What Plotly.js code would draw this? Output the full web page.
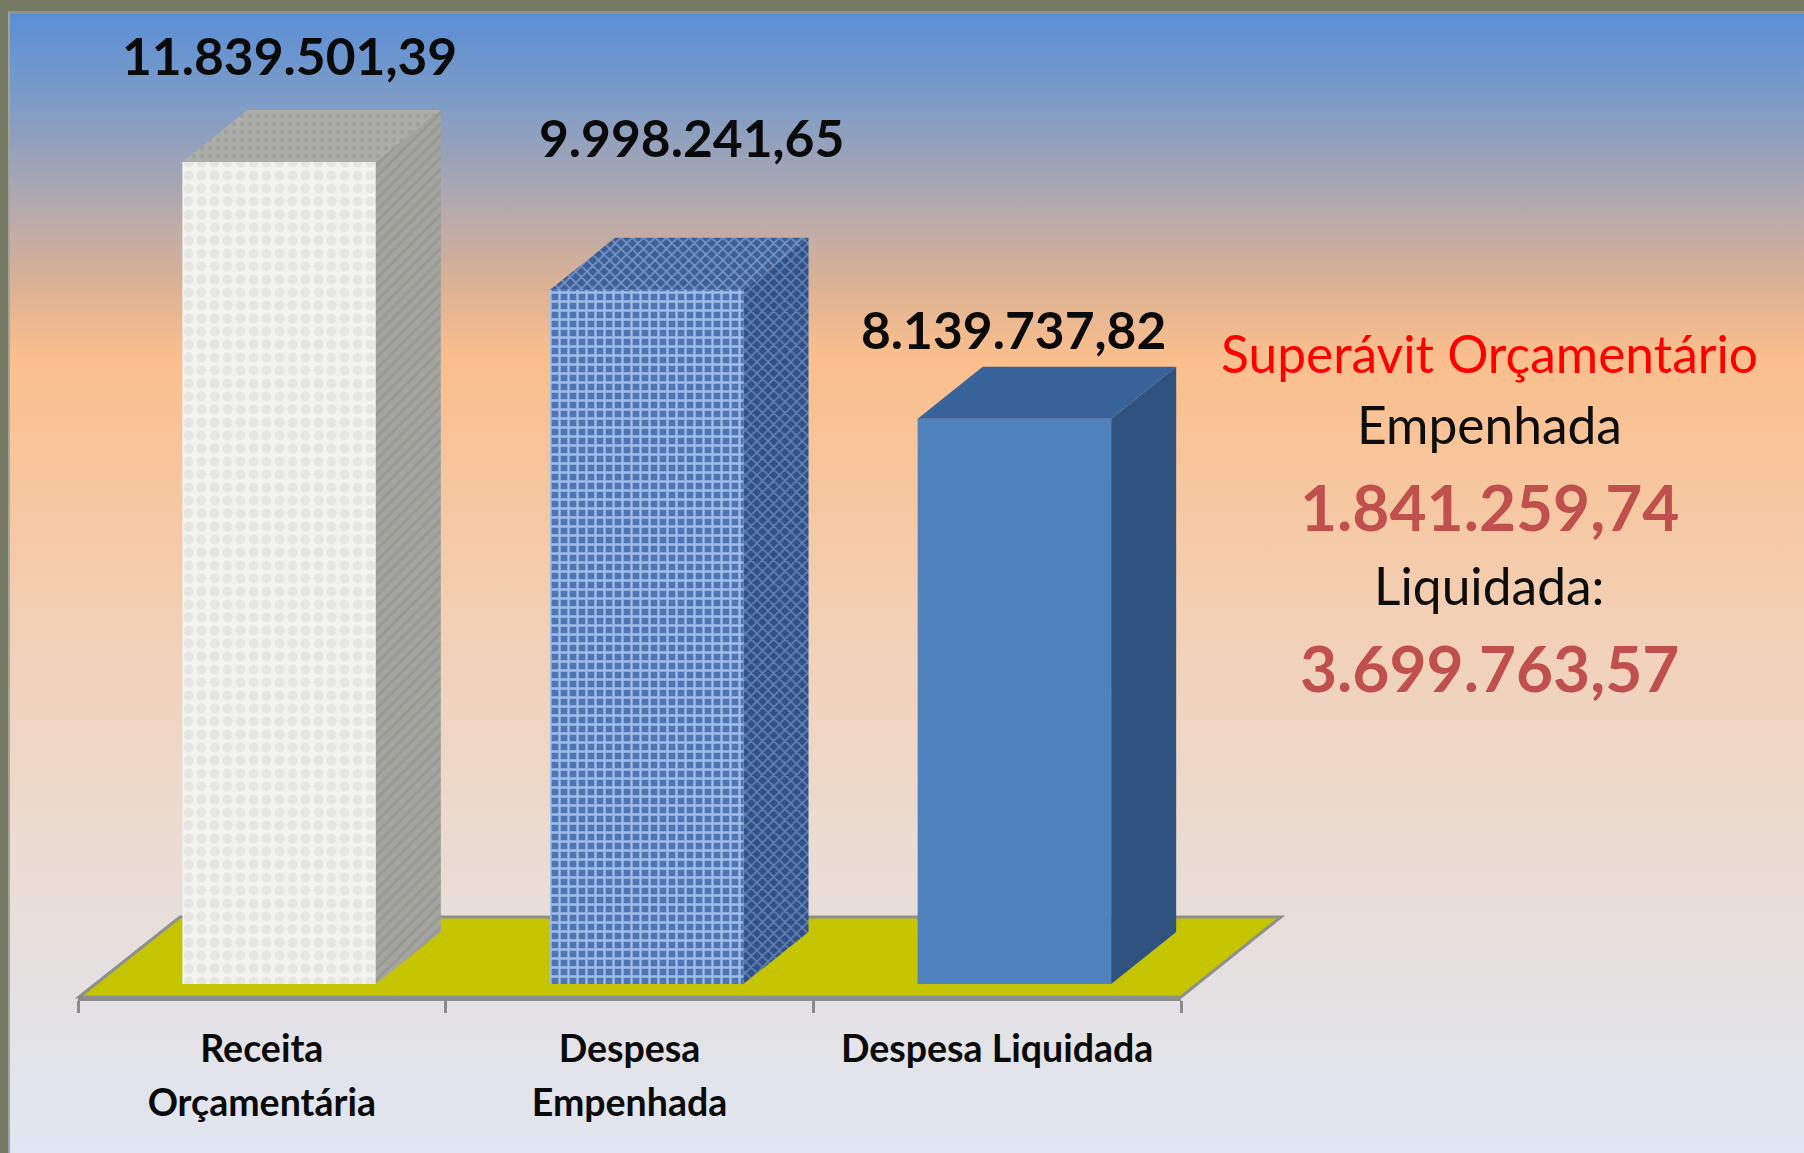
<!DOCTYPE html>
<html><head><meta charset="utf-8">
<script src="https://cdn.plot.ly/plotly-3.0.1.min.js"></script>
<style>
html,body{margin:0;padding:0;width:1804px;height:1153px;overflow:hidden;background:#767a64}
#bg{position:absolute;left:8px;top:11px;width:1796px;height:1142px;border-left:2px solid #a3a59b;border-top:3px solid #8f9186;box-sizing:border-box;
background:linear-gradient(180deg,#5a8fd6 0px,#7f9cc6 90px,#b5aaad 195px,#dcb295 270px,#fbbf8d 345px,#f6c7a0 480px,#f3cfb4 600px,#ecdacd 800px,#e5e1e2 970px,#e0e6f2 1140px)}
#chart{position:absolute;left:0;top:0;width:1804px;height:1153px}
</style></head><body>
<div id="bg"></div><div id="chart"></div>
<script>
const categories = ['Receita<br>Orçamentária', 'Despesa<br>Empenhada', 'Despesa Liquidada'];
const values = [11839501.39, 9998241.65, 8139737.82];
const valueLabels = ['11.839.501,39', '9.998.241,65', '8.139.737,82'];
const noteTitle = 'Superávit Orçamentário';
const noteEmpenhada = 'Empenhada';
const noteEmpenhadaValue = '1.841.259,74';
const noteLiquidada = 'Liquidada:';
const noteLiquidadaValue = '3.699.763,57';

const W = 1804, H = 1153;
const FONT = 'Lato, Carlito, sans-serif';
const pxPerCat = (1181 - 78) / 3, unitsPerPx = 1 / 69.43e-6;
const yRange = [-14 * unitsPerPx, 984 * unitsPerPx];
const barOffset = (182 - 261.5) / pxPerCat, barWidth = 193.5 / pxPerCat;
const depthX = 65 / pxPerCat, depthY = 52 * unitsPerPx;

const frontStyles = [
  {color:'#f3f3f1', pattern:{shape:'.', fgcolor:'#e6e6e3', size:13, solidity:0.45}},
  {color:'#4f76b2', pattern:{shape:'+', fgcolor:'#a0bdea', size:9, solidity:0.45}},
  {color:'#4f81bd'}
];
const sideStyles = [
  {fillcolor:'#a2a29e', fillpattern:{shape:'/', bgcolor:'#a4a4a0', fgcolor:'#9a9a94', size:8, solidity:0.35}},
  {fillcolor:'#3f5f90', fillpattern:{shape:'x', bgcolor:'#30508a', fgcolor:'#6482b0', size:8, solidity:0.35}},
  {fillcolor:'#2f527f'}
];
const topStyles = [
  {fillcolor:'#aaaaa6', fillpattern:{shape:'.', bgcolor:'#adada9', fgcolor:'#a2a29c', size:8, solidity:0.3}},
  {fillcolor:'#4a6a9f', fillpattern:{shape:'x', bgcolor:'#3c5f98', fgcolor:'#7a97c4', size:8, solidity:0.35}},
  {fillcolor:'#38629a'}
];

// one bar trace per category, so that every bar keeps its own solid pattern background
const traces = values.map((v,i)=>{
  const s = frontStyles[i];
  const marker = {color:s.color, line:{width:0}};
  if (s.pattern) marker.pattern = Object.assign({bgcolor:s.color}, s.pattern);
  return {type:'bar', x:[categories[i]], y:[v], width:barWidth, offset:barOffset, marker, hoverinfo:'x+y'};
});
values.forEach((v,i)=>{
  const xr = i + barOffset + barWidth, xl = i + barOffset;
  traces.push(Object.assign({type:'scatter', xaxis:'x2', yaxis:'y2', mode:'none', fill:'toself',
    x:[xr, xr+depthX, xr+depthX, xr, xr], y:[0, depthY, v+depthY, v, 0], hoverinfo:'skip'}, sideStyles[i]));
  traces.push(Object.assign({type:'scatter', xaxis:'x2', yaxis:'y2', mode:'none', fill:'toself',
    x:[xl, xl+depthX, xr+depthX, xr, xl], y:[v, v+depthY, v+depthY, v, v], hoverinfo:'skip'}, topStyles[i]));
});

const px = (x,y)=>`${x/W} ${1-y/H}`;
const floor = 'M'+px(79,997)+' L'+px(180,917)+' L'+px(1281,917)+' L'+px(1181,997)+' Z';

const ann = (text,xc,yc,size,color,bold)=>({xref:'paper',yref:'paper',x:xc/W,y:1-yc/H,xanchor:'center',yanchor:'middle',
  showarrow:false,text:bold?`<b>${text}</b>`:text,font:{family:FONT,size:size,color:color}});
const labelPos = [[289,55],[691,137],[1013,329]];
const annotations = valueLabels.map((t,i)=>ann(t,labelPos[i][0],labelPos[i][1],51.5,'#0a0a0a',true));
annotations.push(ann(noteTitle,1489,353,51.5,'#ff0000',false));
annotations.push(ann(noteEmpenhada,1489,424,51.5,'#0d0d0d',false));
annotations.push(ann(noteEmpenhadaValue,1489,507,64,'#c0504d',true));
annotations.push(ann(noteLiquidada,1489,585,51.5,'#0d0d0d',false));
annotations.push(ann(noteLiquidadaValue,1489,667,64,'#c0504d',true));

const dom = [78/W, 1181/W], ydom = [(H-998)/H, 1];
const layout = {
  width:W, height:H, margin:{l:0,r:0,t:0,b:0,pad:0}, showlegend:false, barmode:'overlay',
  paper_bgcolor:'rgba(0,0,0,0)', plot_bgcolor:'rgba(0,0,0,0)',
  xaxis:{type:'category', domain:dom, range:[-0.5,2.5], categoryorder:'array', categoryarray:categories,
    tickson:'boundaries', ticks:'outside', ticklen:12, tickwidth:3, tickcolor:'#8c8c8c',
    showline:true, linecolor:'#8c8c8c', linewidth:3, showgrid:false, zeroline:false, fixedrange:true,
    tickvals:categories,
    ticktext:categories.map(c=>c.split('<br>').map(s=>`<span style="font-size:37.5px"><b>${s}</b></span>`).join('<br>')),
    tickangle:0, ticklabelstandoff:11, tickfont:{family:FONT,size:41.5,color:'#0a0a0a'}},
  yaxis:{domain:ydom, range:yRange, visible:false, fixedrange:true},
  xaxis2:{domain:dom, range:[-0.5,2.5], overlaying:'x', anchor:'y2', visible:false, fixedrange:true},
  yaxis2:{domain:ydom, range:yRange, overlaying:'y', anchor:'x2', visible:false, fixedrange:true},
  shapes:[{type:'path', xref:'paper', yref:'paper', path:floor, fillcolor:'#c5c400', line:{color:'#8f8f8f',width:3}, layer:'below'}],
  annotations
};
Plotly.newPlot('chart', traces, layout, {displayModeBar:false, responsive:false});
</script></body></html>
